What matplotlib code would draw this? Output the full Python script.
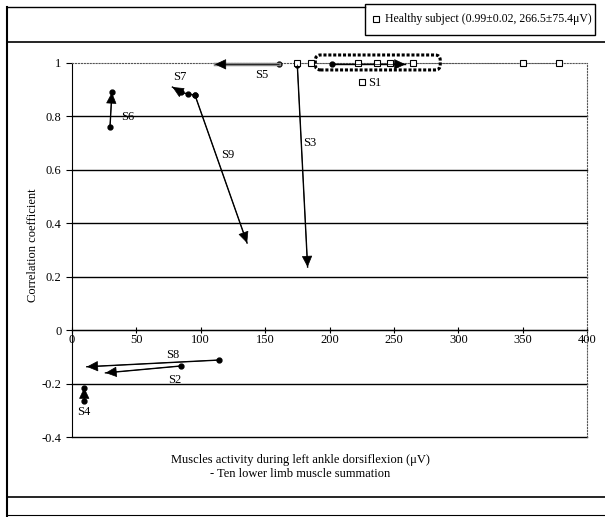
import matplotlib
matplotlib.use("Agg")
from matplotlib import pyplot as plt
from matplotlib.lines import Line2D
from matplotlib.patches import Rectangle, FancyBboxPatch
from matplotlib.ticker import FuncFormatter

plt.rcParams['font.family'] = ['Liberation Serif', 'DejaVu Serif']

# Healthy subjects (open squares)
healthy_x = [175, 186, 222, 237, 247, 265, 350, 378, 225]
healthy_y = [1.0, 1.0, 1.0, 1.0, 1.0, 1.0, 1.0, 1.0, 0.93]

# Patient trajectories (start -> end, arrow on the last segment)
s1_x, s1_y = [202, 259], [0.995, 0.995]
s2_x, s2_y = [85, 26], [-0.134, -0.16]
s3_x, s3_y = [175, 183], [0.993, 0.236]
s4_x, s4_y = [9.5, 9.5], [-0.265, -0.215]
s5_x, s5_y = [161, 111], [0.995, 0.995]
s6_x, s6_y = [29.5, 31], [0.76, 0.89]
s7_x, s7_y = [95.5, 90, 85, 78], [0.88, 0.884, 0.89, 0.91]
s8_x, s8_y = [114, 11.5], [-0.112, -0.137]
s9_x, s9_y = [95.5, 136], [0.88, 0.326]

subjects = {
    "S1": (s1_x, s1_y), "S2": (s2_x, s2_y), "S3": (s3_x, s3_y),
    "S4": (s4_x, s4_y), "S5": (s5_x, s5_y), "S6": (s6_x, s6_y),
    "S7": (s7_x, s7_y), "S8": (s8_x, s8_y), "S9": (s9_x, s9_y),
}

# label positions
label_pos = {
    "S1": (235, 0.925), "S2": (80, -0.187), "S3": (185, 0.70),
    "S4": (9.5, -0.307), "S5": (147, 0.955), "S6": (43, 0.798),
    "S7": (84, 0.948), "S8": (78, -0.094), "S9": (121, 0.655),
}

W, H = 605, 517
fig = plt.figure(figsize=(W / 100, H / 100), dpi=100)


def fx(px):
    return px / W


def fy(py):
    return 1 - py / H


ax = fig.add_axes([fx(72), fy(437), (587 - 72) / W, (437 - 63) / H])
ax.set_xlim(0, 400)
ax.set_ylim(-0.4, 1)

# grid lines
for yv in [-0.4, -0.2, 0, 0.2, 0.4, 0.6, 0.8]:
    ax.axhline(yv, color='black', lw=1, zorder=1, clip_on=False)

ax.spines['left'].set_position(('data', 0))
ax.spines['bottom'].set_position(('data', 0))
ax.spines['top'].set_linestyle(':')
ax.spines['right'].set_linestyle(':')
ax.spines['top'].set_color('#555555')
ax.spines['right'].set_color('#555555')

ax.set_xticks(range(0, 401, 50))
ax.set_yticks([-0.4, -0.2, 0, 0.2, 0.4, 0.6, 0.8, 1])
ax.yaxis.set_major_formatter(FuncFormatter(lambda v, p: '%g' % round(v, 1)))
ax.tick_params(axis='x', direction='inout', length=4, labelsize=9, pad=1)
ax.tick_params(axis='y', direction='out', length=4, labelsize=9)

# healthy subjects
ax.plot(healthy_x[:8], healthy_y[:8], color='#777777', lw=0.8, ls=':', zorder=2)
ax.plot(healthy_x, healthy_y, ls='none', marker='s', ms=4.5, mfc='white',
        mec='black', mew=0.8, zorder=5, clip_on=False)

# S1 dotted box
box = FancyBboxPatch((189, 0.974), 97, 0.056,
                     boxstyle="round,pad=0,rounding_size=4",
                     mutation_aspect=1.2875 / 267,
                     fill=False, ls=(0, (1, 0.6)), lw=2.2, ec='black',
                     clip_on=False, zorder=3)
ax.add_patch(box)

tip_dots = {"S4", "S6"}
for name, (xs, ys) in subjects.items():
    color = '#888888' if name == "S5" else 'black'
    lw = 2.5 if name == "S5" else 1
    ax.plot(xs[:-1], ys[:-1], color=color, lw=lw, marker='o', ms=3.5,
            mfc='black', mec='black', zorder=4, clip_on=False)
    ax.plot(xs[-2:], ys[-2:], color=color, lw=lw, zorder=4, clip_on=False)
    if name in tip_dots:
        ax.plot(xs[-1:], ys[-1:], ls='none', marker='o', ms=3.5, color='black',
                zorder=7, clip_on=False)
    ax.annotate('', xy=(xs[-1], ys[-1]), xytext=(xs[-2], ys[-2]),
                arrowprops=dict(arrowstyle='-|>,head_length=0.6,head_width=0.28',
                                color='black', lw=0.5,
                                mutation_scale=12, shrinkA=0, shrinkB=0),
                zorder=6, annotation_clip=False)
    lx, ly = label_pos[name]
    ax.text(lx, ly, name, fontsize=9, ha='center', va='center', zorder=7)

# axis titles
fig.text(fx(300), fy(467), "Muscles activity during left ankle dorsiflexion (\u03bcV)\n"
         "- Ten lower limb muscle summation", ha='center', va='center',
         fontsize=9, linespacing=1.2)
fig.text(fx(33), fy(245), "Correlation coefficient", rotation=90,
         ha='center', va='center', fontsize=9)

# legend box
fig.add_artist(Rectangle((fx(365), fy(35)), 230 / W, 31 / H, fill=False,
                         ec='black', lw=1, transform=fig.transFigure))
fig.add_artist(Line2D([fx(376)], [fy(19)], marker='s', ms=4.5, mfc='white',
                      mec='black', mew=0.8, ls='none', transform=fig.transFigure))
fig.text(fx(385), fy(19), "Healthy subject (0.99\u00b10.02, 266.5\u00b175.4\u03bcV)",
         ha='left', va='center', fontsize=8.5)

# chart frame lines
frame = [
    ([7, 7], [7, 517], 1.5),
    ([7, 365], [7, 7], 1),
    ([7, 605], [42, 42], 1.2),
    ([7, 605], [497, 497], 1.2),
    ([7, 605], [515, 515], 0.8),
]
for xs, ys, lw in frame:
    fig.add_artist(Line2D([fx(v) for v in xs], [fy(v) for v in ys], color='black',
                          lw=lw, transform=fig.transFigure))

fig.savefig("out.png", dpi=100)
